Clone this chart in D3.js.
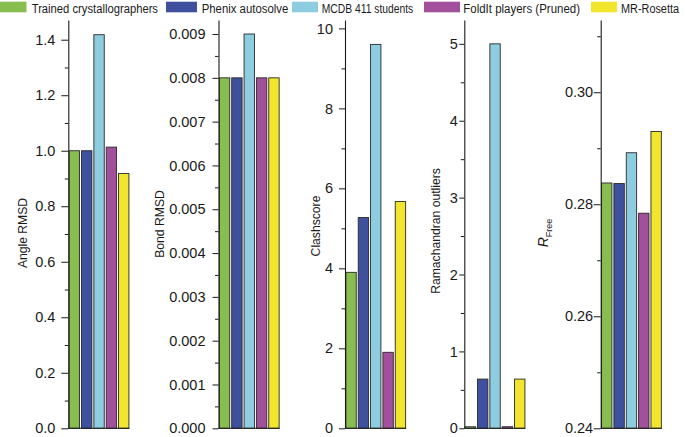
<!DOCTYPE html>
<html>
<head>
<meta charset="utf-8">
<script src="https://cdn.jsdelivr.net/npm/d3@7/dist/d3.min.js"></script>
<style>
  html, body { margin: 0; padding: 0; background: #fff; }
  svg { display: block; font-family: "Liberation Sans", Arial, Helvetica, sans-serif; }
</style>
</head>
<body>
<svg id="chart" width="685" height="437"></svg>
<script>
// ---------- DATA ----------
const categories = ["Trained crystallographers", "Phenix autosolve", "MCDB 411 students", "FoldIt players (Pruned)", "MR-Rosetta"];
const colors = ["#88bd4f", "#3e509e", "#8ecde0", "#a2509c", "#f2e52e"];
const metricLabels = ["Angle RMSD", "Bond RMSD", "Clashscore", "Ramachandran outliers", "RFree"];

const angleRMSD = [1.0, 1.0, 1.418, 1.013, 0.918];
const bondRMSD = [0.008, 0.008, 0.009, 0.008, 0.008];
const clashscore = [3.9, 5.27, 9.6, 1.9, 5.67];
const ramaOutliers = [0.02, 0.64, 5.0, 0.02, 0.64];
const rFree = [0.2838, 0.2837, 0.2892, 0.2784, 0.2930];

const yMin = [0, 0, 0, 0, 0.24];
const yMax = [1.471, 0.00932, 10.21, 5.31, 0.3129];
const majorTicks = [
  [0, 0.2, 0.4, 0.6, 0.8, 1.0, 1.2, 1.4],
  [0, 0.001, 0.002, 0.003, 0.004, 0.005, 0.006, 0.007, 0.008, 0.009],
  [0, 2, 4, 6, 8, 10],
  [0, 1, 2, 3, 4, 5],
  [0.24, 0.26, 0.28, 0.30]
];
const minorTicks = [
  [0.1, 0.3, 0.5, 0.7, 0.9, 1.1, 1.3],
  [0.0005, 0.0015, 0.0025, 0.0035, 0.0045, 0.0055, 0.0065, 0.0075, 0.0085],
  [1, 3, 5, 7, 9],
  [0.5, 1.5, 2.5, 3.5, 4.5],
  [0.25, 0.27, 0.29, 0.31]
];
const tickFormats = [".1f", ".3f", "d", "d", ".2f"];
const seriesByMetric = [angleRMSD, bondRMSD, clashscore, ramaOutliers, rFree];

// ---------- LAYOUT ----------
const svg = d3.select("#chart");
const yTop = 20, yBottom = 428.3;
const axisX = [68.3, 218.5, 345, 464.3, 600.7];
const majorLen = [7, 6, 6, 5, 7];
const labelGap = [13, 13, 12, 6.5, 7.5];
const plotW = 61;
const titlePos = [[27, 233], [163.5, 224], [320, 226], [439.5, 231], [548, 233]];
const titleCondense = 0.9;

metricLabels.forEach((label, i) => {
  const g = svg.append("g");
  const y = d3.scaleLinear().domain([yMin[i], yMax[i]]).range([yBottom, yTop]);
  const x = d3.scaleBand().domain(categories).range([axisX[i] + 0.5, axisX[i] + plotW]).paddingInner(0.16).paddingOuter(0.03);

  // bars
  g.selectAll("rect.bar").data(seriesByMetric[i]).join("rect")
    .attr("class", "bar")
    .attr("x", (d, k) => x(categories[k]))
    .attr("width", x.bandwidth())
    .attr("y", d => y(d))
    .attr("height", d => y(yMin[i]) - y(d))
    .attr("fill", (d, k) => colors[k])
    .attr("stroke", "#2a2a2a")
    .attr("stroke-width", 0.9);

  // minor ticks
  const minor = g.append("g").attr("transform", `translate(${axisX[i]},0)`)
    .call(d3.axisLeft(y).tickValues(minorTicks[i]).tickSize(3.5).tickSizeOuter(0).tickFormat(""));
  minor.select(".domain").remove();

  // major axis
  const major = g.append("g").attr("transform", `translate(${axisX[i]},0)`)
    .call(d3.axisLeft(y).tickValues(majorTicks[i]).tickSize(majorLen[i]).tickSizeOuter(0)
      .tickPadding(labelGap[i] - majorLen[i]).tickFormat(d3.format(tickFormats[i])));
  major.selectAll("text").attr("font-size", 14.5).attr("fill", "#1a1a1a").attr("font-family", "'Liberation Sans', Arial, sans-serif");
  g.selectAll(".tick line").attr("stroke", "#1a1a1a").attr("stroke-width", 1);
  major.select(".domain").attr("stroke", "#1a1a1a").attr("stroke-width", 1.1);

  // baseline
  g.append("line")
    .attr("x1", axisX[i]).attr("x2", axisX[i] + plotW)
    .attr("y1", y(yMin[i])).attr("y2", y(yMin[i]))
    .attr("stroke", "#1a1a1a").attr("stroke-width", 1.1);

  // title
  const t = g.append("text")
    .attr("transform", `translate(${titlePos[i][0]},${titlePos[i][1]}) rotate(-90)`)
    .attr("text-anchor", "middle")
    .attr("font-size", 13.5)
    .attr("fill", "#1a1a1a");
  if (label === "RFree") {
    t.append("tspan").attr("font-style", "italic").attr("font-size", 14).text("R");
    t.append("tspan").attr("font-size", 9).attr("dy", 4).text("Free");
  } else {
    t.text(label);
    const w = t.node().getComputedTextLength();
    t.attr("textLength", w * titleCondense).attr("lengthAdjust", "spacingAndGlyphs");
  }
});

// ---------- LEGEND ----------
const legendSwatchX = [-4, 166, 292, 424, 591];
const legendSwatchW = [30.5, 31, 26, 36, 26];
const legendTextX = [31.7, 201.7, 321.7, 463.3, 621];
const legendTextW = [126.3, 86.6, 91.6, 116.7, 58];
const legend = svg.append("g");
categories.forEach((c, k) => {
  legend.append("rect")
    .attr("x", legendSwatchX[k]).attr("y", 1.7)
    .attr("width", legendSwatchW[k]).attr("height", 10.6)
    .attr("fill", colors[k]);
  legend.append("text")
    .attr("x", legendTextX[k] + legendTextW[k]).attr("y", 13)
    .attr("text-anchor", "end")
    .attr("font-size", 12)
    .attr("textLength", legendTextW[k])
    .attr("lengthAdjust", "spacingAndGlyphs")
    .attr("fill", "#1a1a1a")
    .text(c);
});
</script>
</body>
</html>
